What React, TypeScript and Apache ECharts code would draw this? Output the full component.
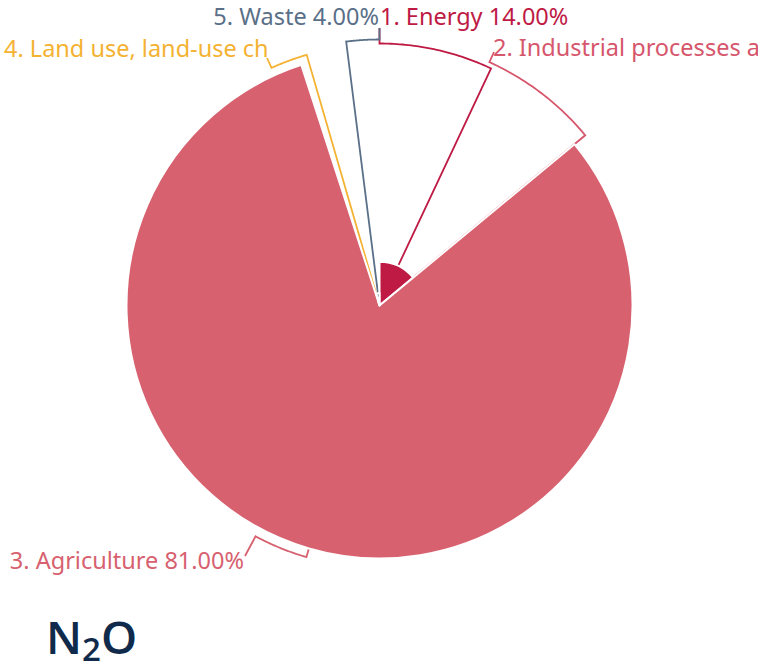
import React, { useEffect, useRef } from 'react';
import * as echarts from 'echarts';

// ---- data ----
const categories = [
  '1. Energy',
  '2. Industrial processes and product use',
  '3. Agriculture',
  '4. Land use, land-use change and forestry',
  '5. Waste',
];
const shares = [14, 0, 81, 1, 4];
const colors = ['#BE1A44', '#D6566C', '#D7616F', '#F4B232', '#5A6F88'];
const titleText = ['N', '2', 'O'];

// ---- layout ----
const CX = 379.5;
const CY = 305.5;
const R = 253;
const lineRadius = [262, 267, 262, 261, 266];
const anchors: number[][] = [[379.5, 28], [494, 52], [245, 556], [267, 58], [379.5, 28]];
const labelPos = [
  { x: 380, y: 16, align: 'left' },
  { x: 493, y: 47, align: 'left', width: 286 },
  { x: 244, y: 560, align: 'right' },
  { x: 4, y: 48, align: 'left', width: 275 },
  { x: 379, y: 16, align: 'right' },
];

const FONT = '"Noto Sans", "Open Sans", sans-serif';

function polar(r: number, deg: number): number[] {
  const a = (deg * Math.PI) / 180;
  return [CX + r * Math.sin(a), CY - r * Math.cos(a)];
}

function buildGuideLines() {
  const total = shares.reduce((s, v) => s + v, 0);
  const maxV = Math.max(...shares);
  let acc = 0;
  return shares.map((v, i) => {
    const a0 = (acc / total) * 360;
    acc += v;
    const a1 = (acc / total) * 360;
    const mid = (a0 + a1) / 2;
    const r = (v / maxV) * R;
    const rl = lineRadius[i];
    const [ax, ay] = anchors[i];
    let aAng = (Math.atan2(ax - CX, CY - ay) * 180) / Math.PI;
    while (aAng - mid > 180) aAng -= 360;
    while (mid - aAng > 180) aAng += 360;
    const pts: number[][] = [polar(r, mid), polar(rl, mid)];
    const steps = 40;
    for (let k = 1; k <= steps; k++) {
      pts.push(polar(rl, mid + ((aAng - mid) * k) / steps));
    }
    pts.push([ax, ay]);
    return {
      type: 'polyline',
      z: 1,
      silent: true,
      shape: { points: pts },
      style: { stroke: colors[i], lineWidth: 1.8, fill: null },
    };
  });
}

export default function App() {
  const ref = useRef<HTMLDivElement>(null);
  useEffect(() => {
    if (!ref.current) return;
    const chart = echarts.init(ref.current, undefined, { renderer: 'svg' });
    const data = categories.map((name, i) => ({
      name,
      value: shares[i],
      itemStyle: { color: colors[i] },
      label: {
        color: colors[i],
        ...(labelPos[i].width ? { width: labelPos[i].width, overflow: 'truncate', ellipsis: '' } : {}),
      },
    }));
    const titleFont = '"Open Sans", "Noto Sans", sans-serif';
    chart.setOption({
      animation: false,
      backgroundColor: '#ffffff',
      title: {
        text: `{n|${titleText[0]}}{s|${titleText[1]}}{n|${titleText[2]}}`,
        left: 46,
        top: 621,
        padding: 0,
        textStyle: {
          rich: {
            n: { fontSize: 46, fontWeight: 600, color: '#0F2A4A', fontFamily: titleFont, lineHeight: 44, padding: [0, 0, 6, 0], verticalAlign: 'bottom' },
            s: { fontSize: 33, fontWeight: 600, color: '#0F2A4A', fontFamily: titleFont, lineHeight: 32, verticalAlign: 'bottom' },
          },
        },
      },
      graphic: { elements: buildGuideLines() },
      series: [
        {
          type: 'pie',
          roseType: 'radius',
          center: [CX, CY],
          radius: [0, R],
          startAngle: 90,
          clockwise: true,
          avoidLabelOverlap: false,
          z: 2,
          itemStyle: { borderColor: '#ffffff', borderWidth: 2 },
          label: {
            show: true,
            fontFamily: FONT,
            fontSize: 23.5,
            formatter: (p: any) => `${p.name} ${p.percent.toFixed(2)}%`,
          },
          labelLine: { show: false },
          labelLayout: (params: any) => {
            const lp = labelPos[params.dataIndex];
            return { x: lp.x, y: lp.y, align: lp.align, verticalAlign: 'middle' };
          },
          emphasis: { disabled: true },
          data,
        },
      ],
    });
    return () => chart.dispose();
  }, []);
  return (
    <div
      ref={ref}
      style={{ position: 'absolute', left: 0, top: 0, width: 758, height: 666 }}
    />
  );
}
